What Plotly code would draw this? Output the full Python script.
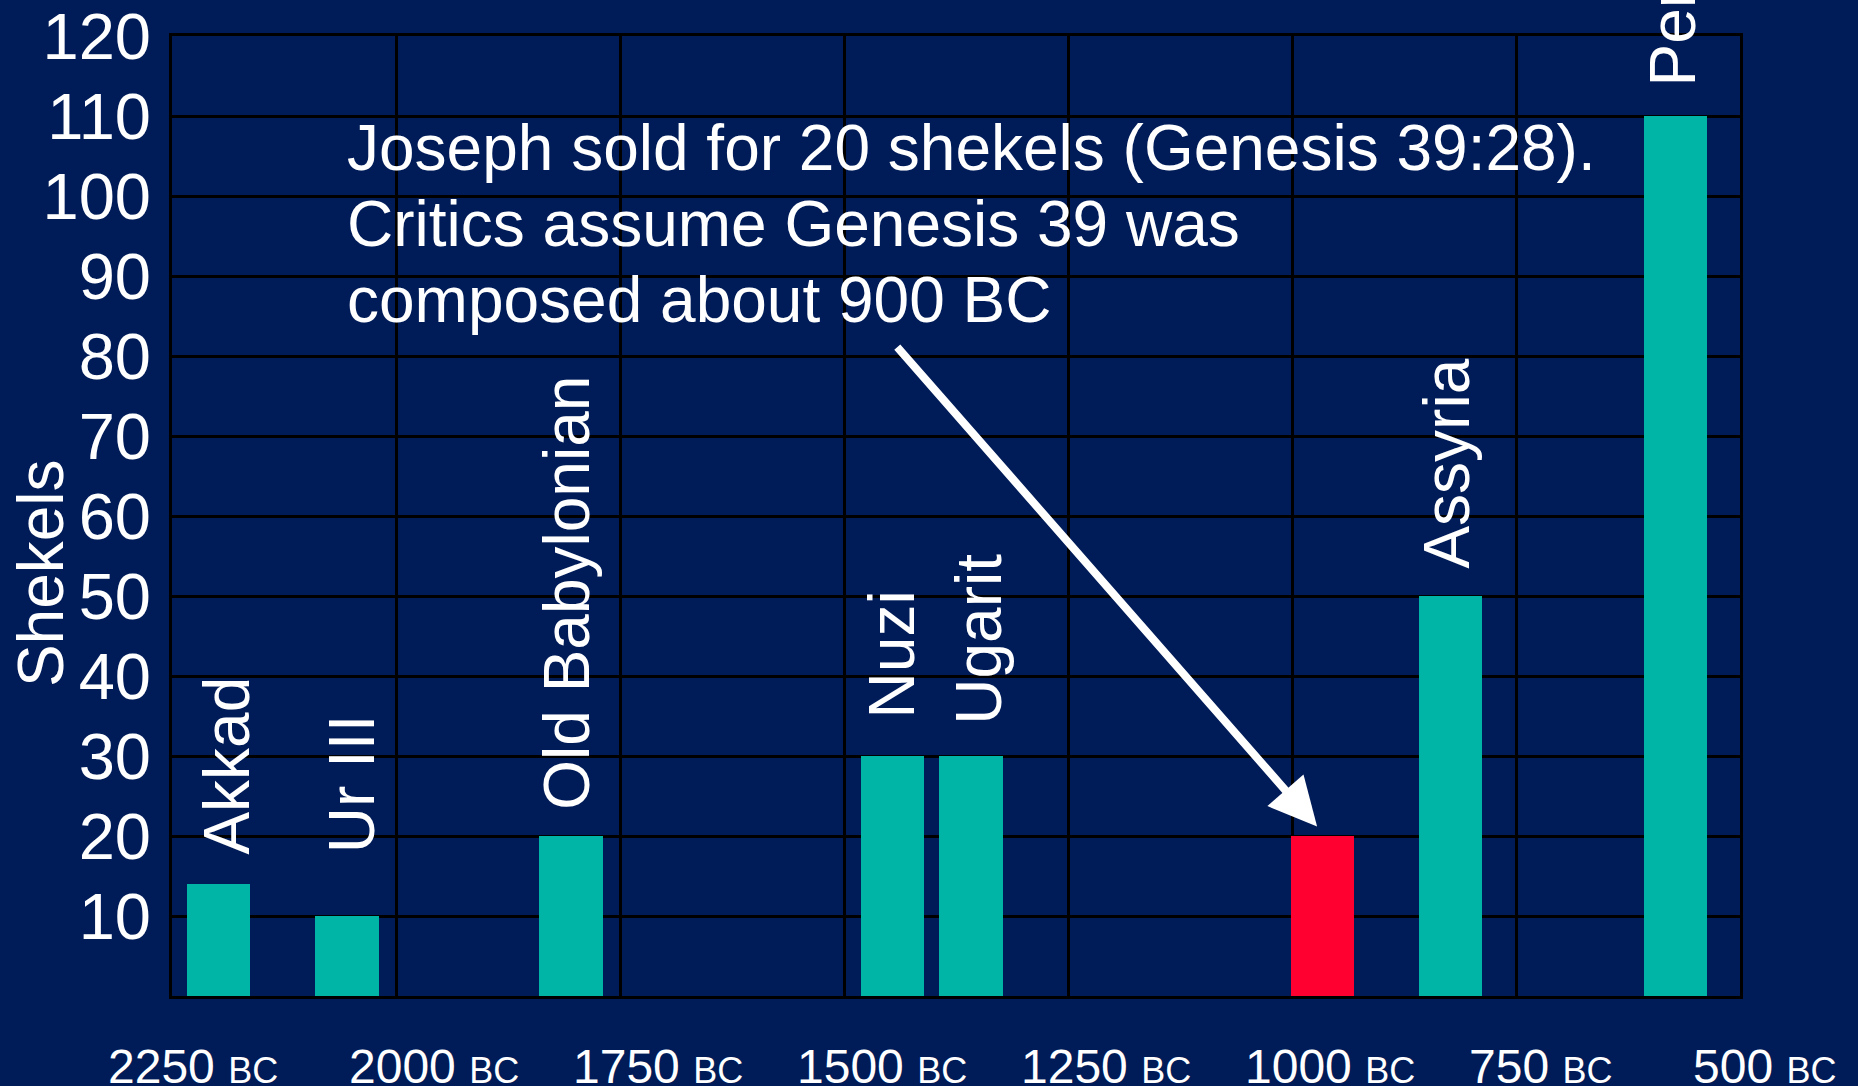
import plotly.graph_objects as go

# ---- data ----
cultures = ["Akkad", "Ur III", "Old Babylonian", "Nuzi", "Ugarit", "Joseph", "Assyria", "Persia"]
years_bc = [2198, 2055, 1805, 1446, 1358, 966, 823, 572]
shekels = [14, 10, 20, 30, 30, 20, 50, 110]
show_label = [True, True, True, True, True, False, True, True]
tick_years = [2250, 2000, 1750, 1500, 1250, 1000, 750, 500]
y_ticks = [10, 20, 30, 40, 50, 60, 70, 80, 90, 100, 110, 120]
note_lines = ["Joseph sold for 20 shekels (Genesis 39:28).",
              "Critics assume Genesis 39 was",
              "composed about 900 BC"]

# ---- style ----
BG = "#001C58"
TEAL = "#00B5A6"
RED = "#FF0030"
FONT = "Arial, Liberation Sans, sans-serif"
bar_colors = [RED if c == "Joseph" else TEAL for c in cultures]
label_yshift = [27, 61, 24, 36, 29, 0, 25, 28]
label_xshift = [8, 5, -4, 0, 7, 0, -4, -2]
tick_xshift = [-66, -49, -49, -49, -49, -49, -49, -49]

fig = go.Figure()
fig.add_trace(go.Bar(x=years_bc, y=shekels, width=71,
                     marker=dict(color=bar_colors, line=dict(width=0)),
                     showlegend=False, hoverinfo="skip"))

annotations = []
for c, x, y, s, ys, xs in zip(cultures, years_bc, shekels, show_label, label_yshift, label_xshift):
    if not s:
        continue
    annotations.append(dict(x=x, y=y, xref="x", yref="y", text=c, showarrow=False,
                            textangle=-90, yanchor="bottom", xanchor="center",
                            yshift=ys, xshift=xs,
                            font=dict(family=FONT, size=64, color="white")))

for yr, xs in zip(tick_years, tick_xshift):
    annotations.append(dict(x=yr, y=-0.073, xref="x", yref="paper",
                            text=f"{yr} <span style='font-size:36px'>BC</span>",
                            showarrow=False, xanchor="left", yanchor="middle", xshift=xs,
                            font=dict(family=FONT, size=48, color="white")))

note_y = [106, 96.5, 87]
for line, ny in zip(note_lines, note_y):
    annotations.append(dict(x=2055, y=ny, xref="x", yref="y", text=line, showarrow=False,
                            xanchor="left", yanchor="middle", xshift=-2,
                            font=dict(family=FONT, size=64, color="white")))

# arrow pointing at Joseph's bar
jx = years_bc[cultures.index("Joseph")]
jy = shekels[cultures.index("Joseph")]
annotations.append(dict(x=jx + 6, y=jy + 1.2, xref="x", yref="y",
                        ax=1442, ay=81.3, axref="x", ayref="y",
                        text="", showarrow=True, arrowhead=2, arrowsize=1.2,
                        arrowwidth=8, arrowcolor="white", standoff=0))

annotations.append(dict(x=-0.0835, y=0.4406, xref="paper", yref="paper", text="Shekels",
                        showarrow=False, textangle=-90, xanchor="center", yanchor="middle",
                        font=dict(family=FONT, size=64, color="white")))

fig.update_layout(
    width=1858, height=1086,
    margin=dict(l=172, r=118, t=36, b=90),
    paper_bgcolor=BG, plot_bgcolor=BG,
    annotations=annotations,
    bargap=0,
)
fig.update_xaxes(range=[2250, 500], tickvals=tick_years, showticklabels=False,
                 showgrid=True, gridcolor="black", gridwidth=2.5, zeroline=False,
                 showline=True, linecolor="black", linewidth=3, mirror=True, ticks="",
                 automargin=False)
fig.update_yaxes(range=[0, 120], tickvals=y_ticks, showgrid=True, gridcolor="black",
                 gridwidth=2.5, zeroline=False, showline=True, linecolor="black",
                 linewidth=3, mirror=True, ticks="", ticklabelstandoff=5,
                 automargin=False, ticklabeloverflow="allow",
                 tickfont=dict(family=FONT, size=65, color="white"))

fig.write_html("out.html",
               config={"displayModeBar": False},
               post_script="document.body.style.margin='0';"
                           "document.body.style.background='#001C58';")
